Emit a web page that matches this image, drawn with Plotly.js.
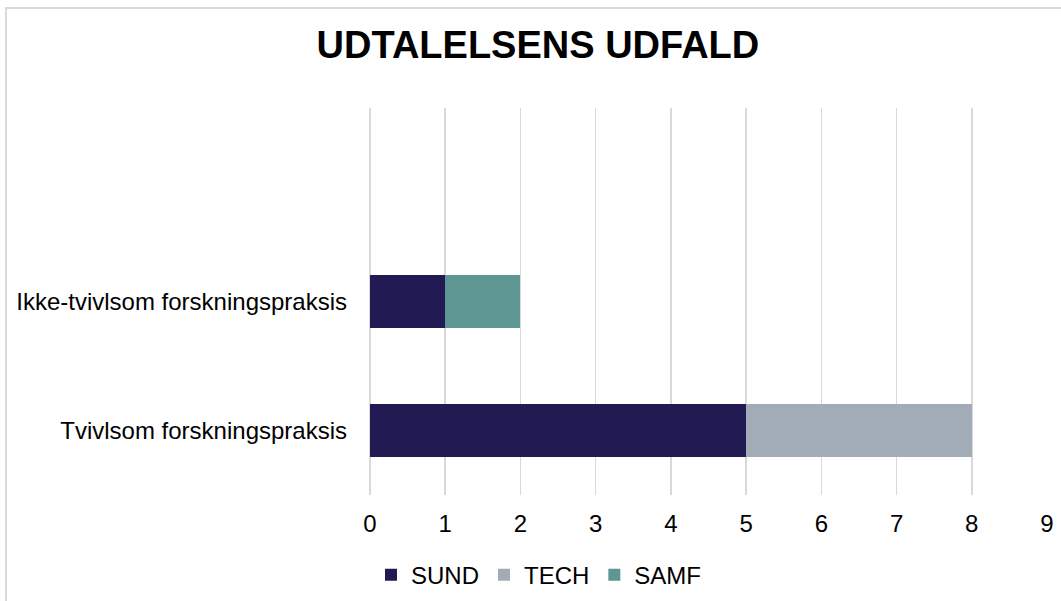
<!DOCTYPE html>
<html><head><meta charset="utf-8">
<script src="https://cdn.plot.ly/plotly-3.0.1.min.js"></script>
<style>
html,body{margin:0;padding:0;background:#fff;}
#frame{position:absolute;left:5px;top:7px;width:1100px;height:650px;border:2px solid #d9d9d9;box-sizing:border-box;pointer-events:none;z-index:5;}
#chart{width:1061px;height:601px;}
</style></head>
<body>
<div id="frame"></div>
<div id="chart"></div>
<script>
const categories = ["Tvivlsom forskningspraksis", "Ikke-tvivlsom forskningspraksis"];
const seriesNames = ["SUND", "TECH", "SAMF"];
const sund = [5, 1];
const tech = [3, 0];
const samf = [0, 1];
const colors = ["#221a52", "#a2acb7", "#5e9693"];
const xTicks = [0,1,2,3,4,5,6,7,8,9];

const values = [sund, tech, samf];
const traces = seriesNames.map((n, i) => ({
  type: "bar", orientation: "h", name: n,
  y: categories, x: values[i],
  marker: {color: colors[i]}, width: 0.405,
  hoverinfo: "x+y+name"
}));

const FONT = "Liberation Sans, Arial, sans-serif";
const layout = {
  width: 1061, height: 601,
  barmode: "stack",
  paper_bgcolor: "#fff", plot_bgcolor: "#fff",
  font: {family: FONT, color: "#000", size: 24},
  title: {text: "<b>UDTALELSENS UDFALD</b>", x: 0.507, xanchor: "center", y: 0.925, yanchor: "middle",
          font: {size: 38, family: FONT, color: "#000"}},
  margin: {l: 370, r: 14, t: 108, b: 106, autoexpand: false},
  xaxis: {range: [0, 9], tickvals: xTicks, showgrid: true, gridcolor: "#d9d9d9", gridwidth: 1.5,
          zeroline: true, zerolinecolor: "#d9d9d9", zerolinewidth: 1.5, showline: false, ticks: "",
          ticklabelstandoff: 12, fixedrange: true, automargin: false, tickfont: {size: 24, family: FONT, color: "#000"}},
  yaxis: {type: "category", range: [-0.5, 2.5], showgrid: false, zeroline: false, showline: false,
          ticks: "", ticklabelstandoff: 22, fixedrange: true, automargin: false, tickfont: {size: 24, family: FONT, color: "#000"}},
  legend: {orientation: "h", xref: "container", yref: "container", x: 0.508, xanchor: "center",
           y: 0.043, yanchor: "middle",
           font: {size: 24, family: FONT, color: "#000"}, traceorder: "normal", itemwidth: 30},
  showlegend: true
};
Plotly.newPlot("chart", traces, layout, {displayModeBar: false, staticPlot: true});
</script>
</body></html>
